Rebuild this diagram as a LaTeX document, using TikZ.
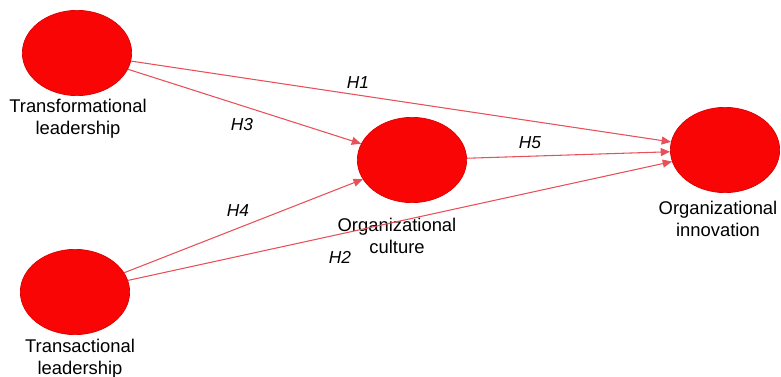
\documentclass[tikz,border=0pt]{standalone}
\usepackage{fontspec}
\setmainfont{Liberation Sans}
\usetikzlibrary{shapes.geometric,arrows.meta}
\definecolor{cred}{RGB}{250,5,5}
\definecolor{lred}{RGB}{232,80,90}
\tikzset{
  construct/.style={ellipse, fill=cred, draw=red!85!black, line width=0.5pt, minimum width=82pt, minimum height=64pt, inner sep=0pt},
  lbl/.style={align=center, font=\fontsize{13.8}{16.5}\selectfont, inner sep=0pt},
  hyp/.style={font=\fontsize{13}{15}\selectfont\itshape, inner sep=0pt},
  path/.style={draw=lred, line width=0.8pt, -{Triangle[length=7pt,width=6pt]}}
}
\begin{document}
\begin{tikzpicture}[x=0.75pt,y=-0.75pt]
\useasboundingbox (0,0) rectangle (781,377);
\node[construct] (tf) at (77,53) {};
\node[construct] (oc) at (412,160) {};
\node[construct] (oi) at (725,150) {};
\node[construct] (ta) at (75,292) {};
\node[lbl] (tfl) at (78,119) {Transformational\\leadership};
\node[lbl] (ocl) at (397,236) {Organizational\\culture};
\node[lbl] (oil) at (718,219) {Organizational\\innovation};
\node[lbl] (tal) at (80,359) {Transactional\\leadership};
\draw[path] (tf) -- (oi);
\draw[path] (tf) -- (oc);
\draw[path] (ta) -- (oc);
\draw[path] (ta) -- (oi);
\draw[path] (oc) -- (oi);
\node[hyp] (h1) at (358,83) {H1};
\node[hyp] (h3) at (242,125) {H3};
\node[hyp] (h5) at (530,143) {H5};
\node[hyp] (h4) at (238,211) {H4};
\node[hyp] (h2) at (340,257) {H2};
\end{tikzpicture}
\end{document}
